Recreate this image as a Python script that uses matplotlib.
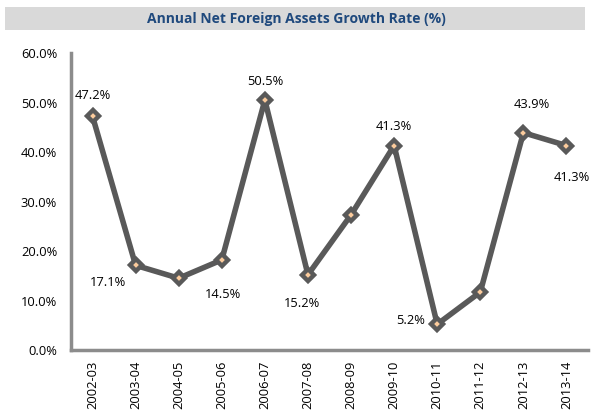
import matplotlib
matplotlib.use("Agg")
import matplotlib.pyplot as plt
from matplotlib.patches import Rectangle
from matplotlib.ticker import FuncFormatter

years = ["2002-03", "2003-04", "2004-05", "2005-06", "2006-07", "2007-08",
         "2008-09", "2009-10", "2010-11", "2011-12", "2012-13", "2013-14"]
growth = [47.2, 17.1, 14.5, 18.2, 50.5, 15.2, 27.3, 41.3, 5.2, 11.7, 43.9, 41.3]
labelled = [0, 1, 2, 4, 5, 7, 8, 10, 11]
label_offsets = {0: (0, 15), 1: (-20, -12), 2: (32, -12), 4: (0, 13),
                 5: (-4, -21), 7: (0, 14), 8: (-19, 3), 10: (6, 20), 11: (4, -23)}

plt.rcParams['font.family'] = ['Open Sans', 'DejaVu Sans']

fig = plt.figure(figsize=(5.92, 4.15), dpi=100)
fig.patches.append(Rectangle((5/592, 1-30/415), 580/592, 23/415,
                             transform=fig.transFigure, facecolor="#d9d9d9",
                             edgecolor="none", zorder=0))
fig.text(296/592, 1-18.5/415, "Annual Net Foreign Assets Growth Rate (%)",
         ha="center", va="center", fontsize=10, fontweight="bold", color="#1f497d")

ax = fig.add_axes([71/592, 1-350/415, 517/592, 297/415])
x = list(range(len(years)))
ax.plot(x, growth, color="#595959", lw=4, marker="D", markersize=6,
        markerfacecolor="#fbcb9c", markeredgecolor="#595959", markeredgewidth=3.2,
        solid_joinstyle="round", zorder=3)

for i in labelled:
    dx, dy = label_offsets[i]
    ax.annotate(f"{growth[i]:.1f}%", (x[i], growth[i]), xytext=(dx, dy),
                textcoords="offset points", ha="center", va="center",
                fontsize=9.3, color="#000000")

ax.set_xlim(-0.5, len(years) - 0.5)
ax.set_ylim(0, 60)
ax.set_yticks(range(0, 61, 10))
ax.yaxis.set_major_formatter(FuncFormatter(lambda v, p: f"{v:.1f}%"))
ax.set_xticks(x)
ax.set_xticklabels(years, rotation=90, fontsize=9.3)
ax.tick_params(axis="y", labelsize=9.3, length=0, pad=10)
ax.tick_params(axis="x", length=0, pad=8)

for s in ["top", "right"]:
    ax.spines[s].set_visible(False)
for s in ["left", "bottom"]:
    ax.spines[s].set_color("#8c8c8c")
    ax.spines[s].set_linewidth(2.5)

fig.savefig("out.png", dpi=100)
